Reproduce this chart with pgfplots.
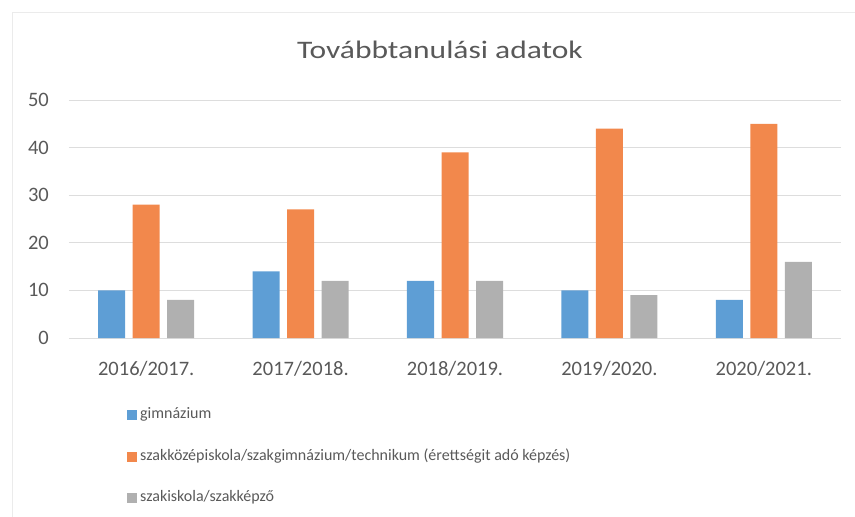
\documentclass[border=0pt]{standalone}
\usepackage{fontspec}
\setmainfont{Carlito}
\usepackage{pgfplots}
\pgfplotsset{compat=1.18}
\definecolor{gimn}{HTML}{5E9ED5}
\definecolor{szakkoz}{HTML}{F2884C}
\definecolor{szakisk}{HTML}{B0B0B0}
\definecolor{txt}{HTML}{595959}
\definecolor{gridcol}{HTML}{DDDDDD}
\definecolor{framecol}{HTML}{EBEBEB}

\begin{document}
\begin{tikzpicture}[x=1pt,y=1pt]
  \useasboundingbox (0,0) rectangle (855,517);
  % faint chart frame
  \draw[framecol, line width=1pt] (12,0) -- (12,504) -- (855,504);
  \node[anchor=base, text=txt, inner sep=0pt, font=\fontsize{31.5}{36}\selectfont]
    at (440,458.5) {\scalebox{1}[0.8]{Továbbtanulási adatok}};
  \begin{axis}[
      at={(69pt,179pt)}, anchor=south west,
      scale only axis, width=772pt, height=238pt,
      xmin=-0.5, xmax=4.5, ymin=0, ymax=50,
      ybar=7.5pt, bar width=27pt,
      xtick={0,1,2,3,4},
      xticklabels={2016/2017.,2017/2018.,2018/2019.,2019/2020.,2020/2021.},
      ytick={0,10,20,30,40,50},
      ymajorgrids,
      major grid style={gridcol, line width=1pt},
      axis line style={draw=none},
      major tick length=0pt,
      tick label style={text=txt, font=\fontsize{20.5}{24}\selectfont, inner sep=0pt},
      /pgf/number format/assume math mode=true,
      xticklabel style={anchor=base, yshift=-37pt},
      yticklabel style={anchor=base east, xshift=-20pt, yshift=-6.5pt},
      legend cell align=left,
      legend image code/.code={\fill (0pt,-5pt) rectangle (10pt,5pt);},
      legend style={
        at={(rel axis cs:0.0751,-0.292)}, anchor=north west,
        draw=none, fill=none, inner sep=0pt,
        font=\fontsize{16}{16}\selectfont, text=txt,
        row sep=26.5pt,
        nodes={inner sep=0pt, text height=11pt, text depth=4pt},
        /tikz/every odd column/.style={column sep=3pt},
      },
    ]
    \addplot[draw=none, fill=gimn] coordinates {(0,10) (1,14) (2,12) (3,10) (4,8)};
    \addlegendentry{gimnázium}
    \addplot[draw=none, fill=szakkoz] coordinates {(0,28) (1,27) (2,39) (3,44) (4,45)};
    \addlegendentry{szakközépiskola/szakgimnázium/technikum (érettségit adó képzés)}
    \addplot[draw=none, fill=szakisk] coordinates {(0,8) (1,12) (2,12) (3,9) (4,16)};
    \addlegendentry{szakiskola/szakképző}
  \end{axis}
\end{tikzpicture}
\end{document}
